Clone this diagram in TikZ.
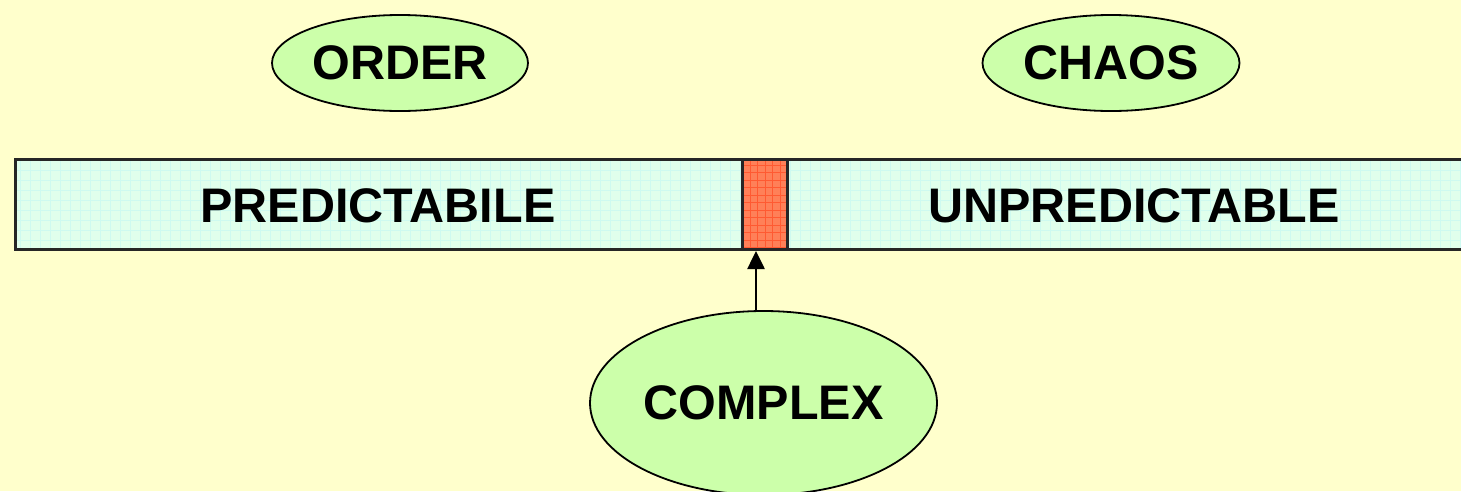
\documentclass[tikz,border=0pt]{standalone}
\usepackage{fontspec}
\setmainfont{Liberation Sans}
\usetikzlibrary{shapes.geometric,arrows.meta}
\definecolor{paper}{RGB}{255,255,204}
\definecolor{leaf}{RGB}{204,255,170}
\definecolor{band}{RGB}{224,255,236}
\definecolor{bandgrid}{RGB}{206,250,240}
\definecolor{hot}{RGB}{255,128,88}
\definecolor{hotgrid}{RGB}{255,90,50}
\tikzset{
  bubble/.style={ellipse, draw=black, line width=1.8pt, fill=leaf, inner sep=0pt,
                 font=\fontsize{48.5}{52}\selectfont\bfseries},
  label/.style={font=\fontsize{48.5}{52}\selectfont\bfseries, inner sep=0pt},
  pointer/.style={line width=2.6pt, -{Triangle[length=18pt,width=17pt]}}
}
\begin{document}
\begin{tikzpicture}[x=1pt,y=-1pt]
  \fill[paper] (0,0) rectangle (1461,491);
  \useasboundingbox (0,0) rectangle (1461,491);

  % the horizontal band with its faint grid
  \coordinate (bandNW) at (14,158);
  \coordinate (bandSE) at (1475,248);
  \fill[band] (bandNW) rectangle (bandSE);
  \begin{scope}
    \clip (bandNW) rectangle (bandSE);
    \draw[bandgrid, line width=0.8pt] (4,148) grid[step=10pt] (1480,258);
  \end{scope}
  \node[draw=black!85, line width=3pt, minimum width=1461pt, minimum height=90pt,
        inner sep=0pt, anchor=north west] (bar) at (bandNW) {};

  % the narrow hatched cell
  \coordinate (hotNW) at (741,158);
  \coordinate (hotSE) at (786,248);
  \fill[hot] (hotNW) rectangle (hotSE);
  \begin{scope}
    \clip (hotNW) rectangle (hotSE);
    \draw[hotgrid, line width=0.9pt] (741,158) grid[step=7.5pt] (790,250);
  \end{scope}
  \node[draw=black!85, line width=3pt, minimum width=45pt, minimum height=90pt,
        inner sep=0pt, anchor=north west] (cell) at (hotNW) {};

  \node[label] (pred) at (378,206) {PREDICTABILE};
  \node[label] (unpred) at (1134,206) {UNPREDICTABLE};

  \node[bubble, minimum width=256pt, minimum height=96pt] (order) at (400,63) {ORDER};
  \node[bubble, minimum width=257pt, minimum height=96pt] (chaos) at (1111,63) {CHAOS};
  \node[bubble, minimum width=347pt, minimum height=184pt] (complex) at (763.5,403) {COMPLEX};

  \coordinate (shaft) at (756,280);
  \draw[pointer] (complex.north -| shaft) -- (cell.south -| shaft);
\end{tikzpicture}
\end{document}
